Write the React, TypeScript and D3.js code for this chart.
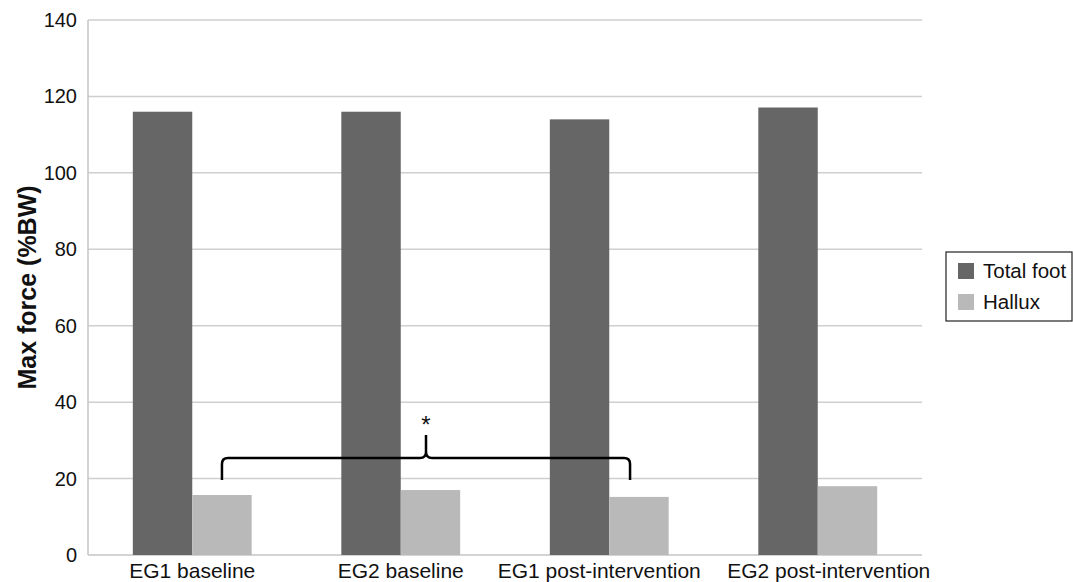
import React from "react";
import * as d3 from "d3";

const categories = ["EG1 baseline", "EG2 baseline", "EG1 post-intervention", "EG2 post-intervention"];
const seriesNames = ["Total foot", "Hallux"];
const totalFoot = [116, 116, 114, 117.1];
const hallux = [15.7, 17, 15.2, 18];
const yTicks = [0, 20, 40, 60, 80, 100, 120, 140];
const seriesColors = ["#666666", "#b9b9b9"];

const W = 1073;
const H = 582;
const margin = { left: 88, right: 151, top: 20, bottom: 27 };
const labelShift = [0, 0, -10, 11];

export default function App() {
  const x = d3.scaleBand<string>().domain(categories).range([margin.left, W - margin.right]).paddingInner(0.43).paddingOuter(0.215);
  const x1 = d3.scaleBand<string>().domain(seriesNames).range([0, x.bandwidth()]);
  const y = d3.scaleLinear().domain([0, 140]).range([H - margin.bottom, margin.top]);
  const values = [totalFoot, hallux];
  const font = "'Liberation Sans', Arial, sans-serif";

  const bx0 = x(categories[0])! + x1("Hallux")! + x1.bandwidth() * 0.5;
  const bx1 = x(categories[2])! + x1("Hallux")! + x1.bandwidth() * 0.35;
  const bm = (bx0 + bx1) / 2;
  const yEnd = y(19.6), yH = y(25.4), yTip = y(31.4);
  const r = 6;
  const bracket = [
    `M${bx0},${yEnd}`,
    `L${bx0},${yH + r}`,
    `Q${bx0},${yH} ${bx0 + r},${yH}`,
    `L${bm - r},${yH}`,
    `Q${bm},${yH} ${bm},${yH - r}`,
    `L${bm},${yTip}`,
    `M${bm},${yH - r}`,
    `Q${bm},${yH} ${bm + r},${yH}`,
    `L${bx1 - r},${yH}`,
    `Q${bx1},${yH} ${bx1},${yH + r}`,
    `L${bx1},${yEnd}`,
  ].join(" ");

  return (
    <svg width={W} height={H} style={{ position: "absolute", left: 0, top: 0, background: "#fff" }} fontFamily={font}>
      {yTicks.map((t) => (
        <g key={t}>
          <line x1={margin.left} x2={W - margin.right} y1={y(t)} y2={y(t)} stroke={t === 0 ? "#c4c4c4" : "#cfcfcf"} strokeWidth={1.5} />
          <text x={margin.left - 11} y={y(t)} dy="0.35em" textAnchor="end" fontSize={20} fill="#111">{t}</text>
        </g>
      ))}
      <line x1={margin.left} x2={margin.left} y1={y(140)} y2={y(0)} stroke="#c4c4c4" strokeWidth={1.5} />
      {categories.map((c, i) => (
        <g key={c}>
          {seriesNames.map((s, j) => (
            <rect key={s} x={x(c)! + x1(s)!} width={x1.bandwidth()} y={y(values[j][i])} height={y(0) - y(values[j][i])} fill={seriesColors[j]} />
          ))}
          <text x={x(c)! + x.bandwidth() / 2 + labelShift[i]} y={578} textAnchor="middle" fontSize={21} fill="#111">{c}</text>
        </g>
      ))}
      <path d={bracket} fill="none" stroke="#000" strokeWidth={2.5} />
      <text x={bm} y={yTip - 2} textAnchor="middle" fontSize={24} fill="#111">*</text>
      <text transform={`translate(36,${(y(0) + y(140)) / 2}) rotate(-90)`} textAnchor="middle" fontSize={25} fontWeight="bold" fill="#111">Max force (%BW)</text>
      <rect x={946} y={252} width={126} height={69} fill="#fff" stroke="#222" strokeWidth={1.2} />
      {seriesNames.map((s, j) => (
        <g key={s}>
          <rect x={958} y={263 + j * 31} width={16} height={16} fill={seriesColors[j]} />
          <text x={983} y={271 + j * 31} dy="0.35em" fontSize={20.5} fill="#111">{s}</text>
        </g>
      ))}
    </svg>
  );
}
